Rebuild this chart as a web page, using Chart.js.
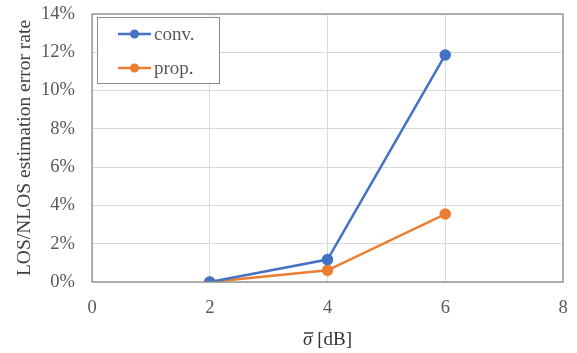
<!DOCTYPE html>
<html>
<head>
<meta charset="utf-8">
<script src="https://cdn.jsdelivr.net/npm/chart.js@4/dist/chart.umd.min.js"></script>
<style>
  html, body { margin: 0; padding: 0; background: #fff; }
  #wrap { width: 577px; height: 353px; }
</style>
</head>
<body>
<div id="wrap"><canvas id="c"></canvas></div>
<script>
// sigma values (dB)
var sigma = [2, 4, 6]
// error rate in %
var conv = [0, 1.17, 11.86]
var prop = [0, 0.61, 3.55]
var seriesNames = ["conv.", "prop."]
var xTicks = [0, 2, 4, 6, 8]
var yTicks = [0, 2, 4, 6, 8, 10, 12, 14]
var xTitle = "[dB]"

var blue = "#4472C4"
var orange = "#ED7D31"
var txt = "#595959"
var fontFam = "'Liberation Serif', 'Times New Roman', serif"

function pts(ys) {
  return sigma.map(function (x, i) { return { x: x, y: ys[i] } })
}

// frame round the plot, legend box inside it, x title with sigma-bar
var framePlugin = {
  id: "frame",
  afterDraw: function (chart) {
    var ctx = chart.ctx
    var a = chart.chartArea
    ctx.save()
    ctx.strokeStyle = "#8c8c8c"
    ctx.lineWidth = 1.3
    ctx.strokeRect(a.left, a.top, a.right - a.left, a.bottom - a.top)

    // legend
    var bx = 97, by = 17, bw = 122, bh = 66
    ctx.fillStyle = "#fff"
    ctx.fillRect(bx, by, bw, bh)
    ctx.strokeStyle = "#8c8c8c"
    ctx.lineWidth = 1
    ctx.strokeRect(bx + 0.5, by + 0.5, bw, bh)
    ctx.font = "19px " + fontFam
    ctx.textBaseline = "middle"
    chart.data.datasets.forEach(function (ds, i) {
      var y = 34 + i * 34
      ctx.strokeStyle = ds.borderColor
      ctx.lineWidth = 2.5
      ctx.beginPath()
      ctx.moveTo(118, y)
      ctx.lineTo(151, y)
      ctx.stroke()
      ctx.fillStyle = ds.borderColor
      ctx.beginPath()
      ctx.arc(134.5, y, 4.5, 0, Math.PI * 2)
      ctx.fill()
      ctx.fillStyle = txt
      ctx.fillText(ds.label, 154, y + 1)
    })

    // x axis title: italic sigma with bar, then [dB]
    ctx.textBaseline = "alphabetic"
    ctx.fillStyle = "#333"
    ctx.font = "italic 19px " + fontFam
    var sw = ctx.measureText("σ").width
    ctx.font = "19px " + fontFam
    var rest = " " + xTitle
    var rw = ctx.measureText(rest).width
    var x0 = (a.left + a.right) / 2 - (sw + rw) / 2
    var base = 345
    ctx.font = "italic 19px " + fontFam
    ctx.fillText("σ", x0, base)
    ctx.strokeStyle = "#333"
    ctx.lineWidth = 1.4
    ctx.beginPath()
    ctx.moveTo(x0 + 1, base - 12)
    ctx.lineTo(x0 + sw + 1, base - 12)
    ctx.stroke()
    ctx.font = "19px " + fontFam
    ctx.fillText(rest, x0 + sw, base)
    ctx.restore()
  }
}

new Chart(document.getElementById("c"), {
  type: "scatter",
  data: {
    datasets: [
      {
        label: seriesNames[0],
        data: pts(conv),
        showLine: true,
        borderColor: blue,
        backgroundColor: blue,
        borderWidth: 2.5,
        pointRadius: 4.5,
        pointHoverRadius: 4.5,
      },
      {
        label: seriesNames[1],
        data: pts(prop),
        showLine: true,
        borderColor: orange,
        backgroundColor: orange,
        borderWidth: 2.5,
        pointRadius: 4.5,
        pointHoverRadius: 4.5,
      },
    ],
  },
  options: {
    responsive: true,
    maintainAspectRatio: false,
    animation: false,
    layout: { padding: { left: 0, right: 14, top: 14, bottom: 0 } },
    plugins: {
      legend: { display: false },
      tooltip: { enabled: false },
    },
    scales: {
      x: {
        type: "linear",
        min: 0,
        max: 8,
        afterBuildTicks: function (s) { s.ticks = xTicks.map(function (v) { return { value: v } }) },
        afterFit: function (s) {
          s.height = 353 - 282
          s.paddingLeft = 0
          s.paddingRight = 0
        },
        grid: { color: "#d9d9d9", lineWidth: 1, drawTicks: false },
        border: { display: false },
        ticks: { color: txt, font: { family: fontFam, size: 18.5 }, padding: 15 },
      },
      y: {
        min: 0,
        max: 14,
        afterBuildTicks: function (s) { s.ticks = yTicks.map(function (v) { return { value: v } }) },
        afterFit: function (s) {
          s.width = 92
          s.paddingTop = 0
          s.paddingBottom = 0
        },
        grid: { color: "#d9d9d9", lineWidth: 1, drawTicks: false },
        border: { display: false },
        ticks: {
          color: txt,
          font: { family: fontFam, size: 18.5 },
          padding: 17,
          callback: function (v) { return v + "%" },
        },
        title: {
          display: true,
          text: "LOS/NLOS estimation error rate",
          color: "#404040",
          font: { family: fontFam, size: 19.5 },
          padding: { top: 13, bottom: 4 },
        },
      },
    },
  },
  plugins: [framePlugin],
})
</script>
</body>
</html>
